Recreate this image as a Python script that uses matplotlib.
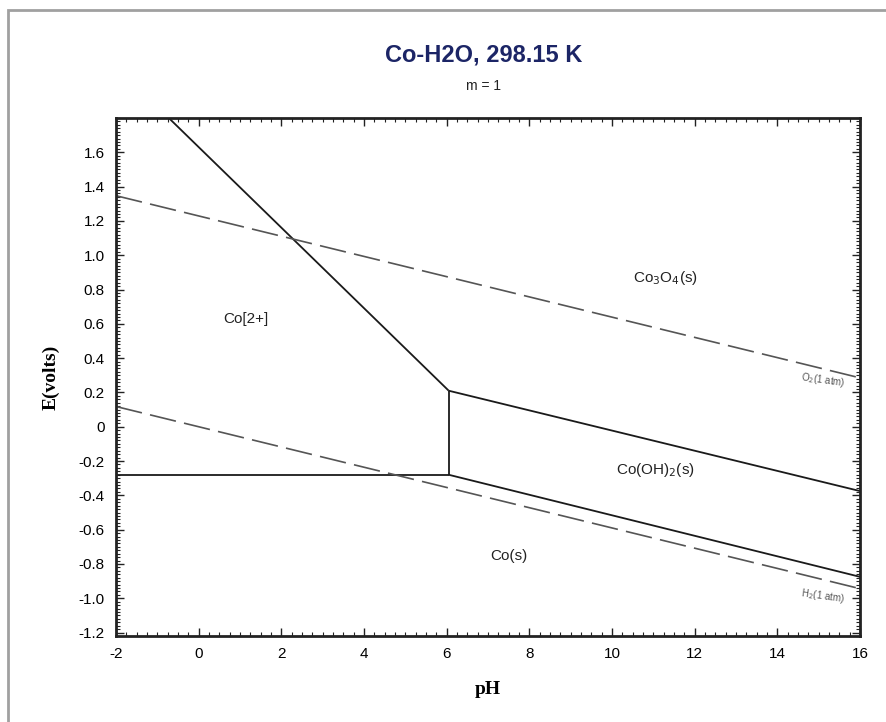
import matplotlib
matplotlib.use("Agg")
import matplotlib.pyplot as plt
from matplotlib.ticker import MultipleLocator, FixedLocator
from matplotlib.patches import Rectangle

# Boundary lines (pH, E) pairs
co2_co3o4_ph = [-2.0, 6.05]
co2_co3o4_e = [2.10, 0.21]
co2_cooh2_ph = [6.05, 6.05]
co2_cooh2_e = [-0.28, 0.21]
co2_co_ph = [-2.0, 6.05]
co2_co_e = [-0.28, -0.28]
cooh2_co3o4_ph = [6.05, 16.0]
cooh2_co3o4_e = [0.21, -0.375]
co_cooh2_ph = [6.05, 16.0]
co_cooh2_e = [-0.28, -0.875]
o2_ph = [-2.0, 16.0]
o2_e = [1.347, 0.285]
h2_ph = [-2.0, 16.0]
h2_e = [0.118, -0.944]

region_names = ["Co[2+]", r"Co$_3$O$_4$(s)", r"Co(OH)$_2$(s)", "Co(s)"]
region_ph = [1.15, 11.3, 11.05, 7.5]
region_e = [0.63, 0.865, -0.255, -0.755]

xticks = [-2, 0, 2, 4, 6, 8, 10, 12, 14, 16]
yticks = [-1.2, -1.0, -0.8, -0.6, -0.4, -0.2, 0, 0.2, 0.4, 0.6, 0.8, 1.0, 1.2, 1.4, 1.6]
yticklabels = ["-1.2", "-1.0", "-0.8", "-0.6", "-0.4", "-0.2", "0", "0.2", "0.4", "0.6",
               "0.8", "1.0", "1.2", "1.4", "1.6"]

plt.rcParams['font.family'] = ['Liberation Sans', 'DejaVu Sans']
plt.rcParams['axes.unicode_minus'] = False

fig = plt.figure(figsize=(8.87, 7.22), dpi=100)
fig.patches.append(Rectangle((8/887, -0.01), 1.0, 1 - 10/722 + 0.01, transform=fig.transFigure,
                             fill=False, edgecolor='#a0a0a0', linewidth=2))

ax = fig.add_axes([116/887, 1 - 636/722, (860-116)/887, (636-118)/722])

lw = 1.3
for xs, ys in [(co2_co3o4_ph, co2_co3o4_e), (co2_cooh2_ph, co2_cooh2_e), (co2_co_ph, co2_co_e),
               (cooh2_co3o4_ph, cooh2_co3o4_e), (co_cooh2_ph, co_cooh2_e)]:
    ax.plot(xs, ys, color='#1a1a1a', lw=lw, solid_capstyle='butt')

for xs, ys in [(o2_ph, o2_e), (h2_ph, h2_e)]:
    ax.plot(xs, ys, color='#555555', lw=1.2, dashes=(16, 5))

for name, x, y in zip(region_names, region_ph, region_e):
    ax.text(x, y, name, ha='center', va='center', fontsize=11, color='#222222')

ax.text(15.1, 0.27, r"O$_2$(1 atm)", fontsize=7, color='#555555', rotation=-8,
        ha='center', va='center')
ax.text(15.1, -0.985, r"H$_2$(1 atm)", fontsize=7, color='#555555', rotation=-8,
        ha='center', va='center')

ax.set_xlim(-2, 16)
ax.set_ylim(-1.22, 1.80)
ax.xaxis.set_major_locator(FixedLocator(xticks))
ax.xaxis.set_minor_locator(MultipleLocator(0.25))
ax.yaxis.set_major_locator(FixedLocator(yticks))
ax.set_yticklabels(yticklabels)
ax.yaxis.set_minor_locator(MultipleLocator(0.02))
ax.tick_params(which='both', direction='in', top=True, right=True, color='#222222')
ax.tick_params(which='major', length=6, width=1.0, labelsize=11, pad=8)
ax.tick_params(which='minor', length=3, width=0.8)
for s in ax.spines.values():
    s.set_linewidth(2)
    s.set_color('#222222')

ax.set_xlabel("pH", fontsize=14, fontweight='bold', family='Liberation Serif', labelpad=14)
ax.set_ylabel("E(volts)", fontsize=14, fontweight='bold', family='Liberation Serif', labelpad=14)

fig.text(0.545, 1 - 55/722, "Co-H2O, 298.15 K", ha='center', va='center', fontsize=17,
         fontweight='bold', color='#1c2566')
fig.text(0.545, 1 - 86/722, "m = 1", ha='center', va='center', fontsize=10, color='#222222')

fig.savefig("out.png", dpi=100)
